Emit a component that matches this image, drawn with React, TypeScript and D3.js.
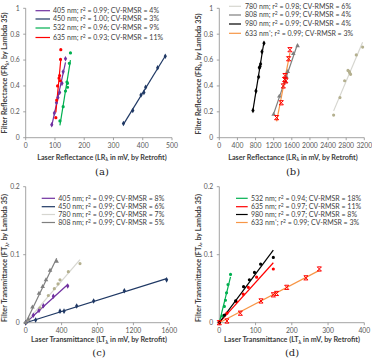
import React from "react";
import * as d3 from "d3";

type Pt = [number, number];

// ---- (a) reflectance, visible lasers ----
const refl405: Pt[] = [[89, 0.10], [98, 0.19], [105, 0.27], [110, 0.31], [116, 0.35], [124, 0.42], [128, 0.51], [136, 0.61]];
const refl450: Pt[] = [[334, 0.11], [366, 0.21], [394, 0.33], [404, 0.35], [410, 0.39], [451, 0.54], [477, 0.63]];
const refl532: Pt[] = [[117, 0.13], [128, 0.24], [136, 0.36], [141, 0.43], [143, 0.42], [143, 0.39], [149, 0.575], [153, 0.655]];
const refl635: Pt[] = [[103, 0.155], [106, 0.29], [109, 0.40], [114, 0.46], [118, 0.44], [116, 0.48], [119, 0.605], [120, 0.68]];

// ---- (b) reflectance, IR lasers and 633 nm ----
const refl780: Pt[] = [[2523, 0.175], [2663, 0.31], [2766, 0.44], [2840, 0.52], [2869, 0.51], [2898, 0.49], [2880, 0.50], [3023, 0.64], [3163, 0.70]];
const refl808: Pt[] = [[1199, 0.18], [1324, 0.32], [1457, 0.43], [1480, 0.47], [1510, 0.51], [1633, 0.65], [1729, 0.71]];
const refl980: Pt[] = [[743, 0.21], [809, 0.36], [868, 0.47], [883, 0.54], [912, 0.57], [900, 0.55], [942, 0.665], [986, 0.73]];
const refl633: Pt[] = [[1265, 0.155], [1368, 0.27], [1413, 0.40], [1442, 0.45], [1450, 0.48], [1470, 0.44], [1530, 0.61], [1559, 0.68]];

// ---- (c) transmittance ----
const trans405: Pt[] = [[0, 0], [85, 0.011], [148, 0.018], [197, 0.025], [308, 0.039], [468, 0.054]];
const trans450: Pt[] = [[0, 0], [111, 0.004], [382, 0.017], [427, 0.017], [568, 0.0245], [757, 0.032], [1099, 0.047], [1570, 0.063]];
const trans780: Pt[] = [[0, 0], [30, 0.004], [160, 0.022], [252, 0.040], [319, 0.050], [360, 0.057], [382, 0.063], [475, 0.075], [605, 0.087]];
const trans808: Pt[] = [[0, 0], [30, 0.005], [75, 0.023], [148, 0.043], [189, 0.053], [226, 0.063], [271, 0.077], [345, 0.090]];

// ---- (d) transmittance ----
const trans532: Pt[] = [[0, 0], [8, 0.010], [14, 0.024], [17, 0.033], [20, 0.044], [24, 0.056], [31, 0.071]];
const trans635: Pt[] = [[0, 0], [21, 0.014], [47, 0.031], [66, 0.042], [80, 0.052], [103, 0.067], [149, 0.079]];
const trans980: Pt[] = [[0, 0], [14, 0.011], [45, 0.032], [67, 0.053], [83, 0.063], [97, 0.074], [114, 0.086], [149, 0.096]];
const trans633: Pt[] = [[0, 0], [21, 0.0025], [58, 0.014], [115, 0.032], [149, 0.041], [158, 0.043], [186, 0.052], [239, 0.066], [276, 0.079]];

// Legend entries: wavelength, r², CV-RMSR
const legendA = [["405 nm", "0.99", "4%"], ["450 nm", "1.00", "3%"], ["532 nm", "0.96", "9%"], ["635 nm", "0.93", "11%"]];
const legendB = [["780 nm", "0.98", "6%"], ["808 nm", "0.99", "4%"], ["980 nm", "0.99", "4%"], ["633 nm*", "0.99", "3%"]];
const legendC = [["405 nm", "0.99", "8%"], ["450 nm", "0.99", "6%"], ["780 nm", "0.99", "7%"], ["808 nm", "0.99", "5%"]];
const legendD = [["532 nm", "0.94", "18%"], ["635 nm", "0.97", "11%"], ["980 nm", "0.97", "8%"], ["633 nm*", "0.99", "3%"]];

const xTicksA = [0, 100, 200, 300, 400, 500];
const xTicksB = [0, 400, 800, 1200, 1600, 2000, 2400, 2800, 3200];
const xTicksC = [0, 400, 800, 1200, 1600];
const xTicksD = [0, 100, 200, 300, 400];
const yTicksR = [0, 0.2, 0.4, 0.6, 0.8, 1];
const yTicksT = [0, 0.1, 0.2];

const FONT = "Lato, 'Open Sans', sans-serif";
const AXIS = "#8c8c8c";
const TXT = "#404040";

const C = {
  purple: "#7030a0",
  navy: "#1f3864",
  green: "#00b050",
  red: "#ff0000",
  khakiLine: "#d6d6d0",
  khaki: "#b4b08f",
  gray: "#7f7f7f",
  black: "#000000",
  orange: "#f79646",
};

type Marker = "circle" | "diamond" | "square" | "triangle" | "cross";

interface Series {
  data: Pt[];
  line: string;
  fill: string;
  marker: Marker;
}

interface Panel {
  xDomain: [number, number];
  xRange: [number, number];
  yDomain: [number, number];
  yRange: [number, number];
  xTicks: number[];
  yTicks: number[];
  origin: boolean;
  series: Series[];
  legend: string[][];
  legendX: [number, number, number];
  legendY: number[];
  quantity: "R" | "T";
  titleX: number;
  titleY: number;
  yTitleX: number;
  yTitleY: number;
  caption: string;
  captionY: number;
}

const panels: Panel[] = [
  {
    xDomain: [0, 500], xRange: [25.7, 172], yDomain: [0, 1], yRange: [137.7, 8.3],
    xTicks: xTicksA, yTicks: yTicksR, origin: false,
    series: [
      { data: refl405, line: C.purple, fill: C.purple, marker: "diamond" },
      { data: refl450, line: C.navy, fill: C.navy, marker: "diamond" },
      { data: refl532, line: C.green, fill: C.green, marker: "circle" },
      { data: refl635, line: C.red, fill: C.red, marker: "circle" },
    ],
    legend: legendA, legendX: [35.5, 50, 53], legendY: [10.7, 19, 28, 37.5],
    quantity: "R", titleX: 102, titleY: 159.5, yTitleX: 7, yTitleY: 73, caption: "(a)", captionY: 174.5,
  },
  {
    xDomain: [0, 3200], xRange: [219.3, 364.3], yDomain: [0, 1], yRange: [137.7, 8.3],
    xTicks: xTicksB, yTicks: yTicksR, origin: false,
    series: [
      { data: refl780, line: C.khakiLine, fill: C.khaki, marker: "circle" },
      { data: refl808, line: C.gray, fill: C.gray, marker: "triangle" },
      { data: refl980, line: C.black, fill: C.black, marker: "diamond" },
      { data: refl633, line: C.orange, fill: C.red, marker: "cross" },
    ],
    legend: legendB, legendX: [229, 241, 245], legendY: [6.3, 15, 24, 33.3],
    quantity: "R", titleX: 293, titleY: 159.5, yTitleX: 200.5, yTitleY: 74, caption: "(b)", captionY: 174.5,
  },
  {
    xDomain: [0, 1600], xRange: [25.7, 169.3], yDomain: [0, 0.2], yRange: [322.7, 186.7],
    xTicks: xTicksC, yTicks: yTicksT, origin: true,
    series: [
      { data: trans405, line: C.purple, fill: C.purple, marker: "diamond" },
      { data: trans450, line: C.navy, fill: C.navy, marker: "diamond" },
      { data: trans780, line: C.khakiLine, fill: C.khaki, marker: "circle" },
      { data: trans808, line: C.gray, fill: C.gray, marker: "triangle" },
    ],
    legend: legendC, legendX: [41.7, 55, 58.3], legendY: [198.3, 206.7, 214.5, 222.5],
    quantity: "T", titleX: 99, titleY: 342, yTitleX: 7, yTitleY: 258, caption: "(c)", captionY: 355.5,
  },
  {
    xDomain: [0, 400], xRange: [219.3, 364.3], yDomain: [0, 0.2], yRange: [322.7, 186.7],
    xTicks: xTicksD, yTicks: yTicksT, origin: true,
    series: [
      { data: trans532, line: C.green, fill: C.green, marker: "circle" },
      { data: trans635, line: C.red, fill: C.red, marker: "circle" },
      { data: trans980, line: C.black, fill: C.black, marker: "circle" },
      { data: trans633, line: C.orange, fill: C.red, marker: "cross" },
    ],
    legend: legendD, legendX: [236, 247.7, 251], legendY: [198.3, 206.7, 214.5, 222.5],
    quantity: "T", titleX: 292, titleY: 342, yTitleX: 200.5, yTitleY: 258, caption: "(d)", captionY: 355.5,
  },
];

// Least-squares trend line; optionally constrained through the origin
function trend(data: Pt[], origin: boolean): [Pt, Pt] {
  const xs = data.map((d) => d[0]);
  const ys = data.map((d) => d[1]);
  const xMax = d3.max(xs) as number;
  if (origin) {
    const sxy = d3.sum(data, (d) => d[0] * d[1]);
    const sxx = d3.sum(data, (d) => d[0] * d[0]);
    const k = sxy / sxx;
    return [[0, 0], [xMax, k * xMax]];
  }
  const mx = d3.mean(xs) as number;
  const my = d3.mean(ys) as number;
  const k = d3.sum(data, (d) => (d[0] - mx) * (d[1] - my)) / d3.sum(data, (d) => (d[0] - mx) ** 2);
  const b = my - k * mx;
  const xMin = d3.min(xs) as number;
  return [[xMin, k * xMin + b], [xMax, k * xMax + b]];
}

function MarkerShape({ kind, x, y, color }: { kind: Marker; x: number; y: number; color: string }) {
  if (kind === "cross") {
    const s = 2.1;
    const p = `M${x - s},${y - s}L${x + s},${y + s}M${x + s},${y - s}L${x - s},${y + s}M${x - s},${y - s}H${x + s}M${x - s},${y + s}H${x + s}`;
    return <path d={p} stroke={color} strokeWidth={1} fill="none" />;
  }
  const type =
    kind === "circle" ? d3.symbolCircle : kind === "diamond" ? d3.symbolDiamond : kind === "triangle" ? d3.symbolTriangle : d3.symbolSquare;
  const size = kind === "triangle" ? 9 : kind === "diamond" ? 9 : 8;
  const d = d3.symbol().type(type).size(size)() as string;
  return <path d={d} transform={`translate(${x},${y})`} fill={color} />;
}

function LegendLabel({ entry, x, y }: { entry: string[]; x: number; y: number }) {
  const [wl, r2, cv] = entry;
  const star = wl.endsWith("*");
  const name = star ? wl.slice(0, -1) : wl;
  return (
    <text x={x} y={y} dy="0.35em" fontSize={7} fill={TXT} fontFamily={FONT}>
      {name}
      {star && (
        <tspan dy="-2.2" fontSize={5}>
          *
        </tspan>
      )}
      <tspan dy={star ? 2.2 : 0}>; r</tspan>
      <tspan dy="-2.2" fontSize={5}>
        2
      </tspan>
      <tspan dy="2.2">{` = ${r2}; CV-RMSR = ${cv}`}</tspan>
    </text>
  );
}

function PanelView({ p }: { p: Panel }) {
  const x = d3.scaleLinear().domain(p.xDomain).range(p.xRange);
  const y = d3.scaleLinear().domain(p.yDomain).range(p.yRange);
  const yFmt = d3.format("~g");
  const [x0, x1] = p.xRange;
  const [y0, y1] = p.yRange;
  const isR = p.quantity === "R";
  const xWord = isR ? "Laser Reflectance (L" + "R" : "Laser Transmittance (L" + "T";
  const yWord = isR ? "Filter Reflectance (F" + "R" : "Filter Transmittance (F" + "T";
  const line = d3
    .line<Pt>()
    .x((d) => x(d[0]))
    .y((d) => y(d[1]));
  return (
    <g>
      {/* axes */}
      <line x1={x0} x2={x0} y1={y0} y2={y1} stroke={AXIS} strokeWidth={0.8} />
      <line x1={x0} x2={x1} y1={y0} y2={y0} stroke={AXIS} strokeWidth={0.8} />
      {p.yTicks.map((t) => (
        <g key={"y" + t}>
          <line x1={x0 - 2.5} x2={x0} y1={y(t)} y2={y(t)} stroke={AXIS} strokeWidth={0.8} />
          <text x={x0 - 6} y={y(t)} dy="0.35em" textAnchor="end" fontSize={6.8} fill="#595959" fontFamily={FONT}>
            {yFmt(t)}
          </text>
        </g>
      ))}
      {p.xTicks.map((t) => (
        <g key={"x" + t}>
          <line x1={x(t)} x2={x(t)} y1={y0} y2={y0 + 2.5} stroke={AXIS} strokeWidth={0.8} />
          <text x={x(t)} y={y0 + 10} textAnchor="middle" fontSize={6.8} fill="#595959" fontFamily={FONT}>
            {t}
          </text>
        </g>
      ))}
      {/* trend lines */}
      {p.series.map((s, i) => (
        <path key={"l" + i} d={line(trend(s.data, p.origin)) as string} stroke={s.line} strokeWidth={1.2} fill="none" />
      ))}
      {/* observations */}
      {p.series.map((s, i) => (
        <g key={"m" + i}>
          {s.data.map((d, j) => (
            <MarkerShape key={j} kind={s.marker} x={x(d[0])} y={y(d[1])} color={s.fill} />
          ))}
        </g>
      ))}
      {/* legend */}
      {p.legend.map((e, i) => (
        <g key={"g" + i}>
          <line
            x1={p.legendX[0]}
            x2={p.legendX[1]}
            y1={p.legendY[i]}
            y2={p.legendY[i]}
            stroke={p.series[i].line}
            strokeWidth={1.2}
          />
          <LegendLabel entry={e} x={p.legendX[2]} y={p.legendY[i]} />
        </g>
      ))}
      {/* axis titles */}
      <text x={p.titleX} y={p.titleY} textAnchor="middle" fontSize={7.2} fontWeight="bold" fill={TXT} fontFamily={FONT}>
        {xWord}
        <tspan dy="1.8" fontSize={5}>
          λ
        </tspan>
        <tspan dy="-1.8">{" in mV, by Retrofit)"}</tspan>
      </text>
      <text
        transform={`translate(${p.yTitleX},${p.yTitleY}) rotate(-90)`}
        textAnchor="middle"
        fontSize={7.2}
        fontWeight="bold"
        fill={TXT}
        fontFamily={FONT}
      >
        {yWord}
        <tspan dy="1.8" fontSize={5}>
          λ
        </tspan>
        <tspan dy="-1.8">{", by Lambda 35)"}</tspan>
      </text>
      <text x={p.titleX} y={p.captionY} textAnchor="middle" fontSize={10} fill="#222" fontFamily="'DejaVu Serif', 'Liberation Serif', serif">
        {p.caption}
      </text>
    </g>
  );
}

export default function App() {
  return (
    <svg width={372} height={359} viewBox="0 0 372 359" style={{ display: "block", position: "absolute", left: 0, top: 0, background: "#fff" }}>
      <rect width={372} height={359} fill="#fff" />
      {panels.map((p, i) => (
        <PanelView key={i} p={p} />
      ))}
    </svg>
  );
}
